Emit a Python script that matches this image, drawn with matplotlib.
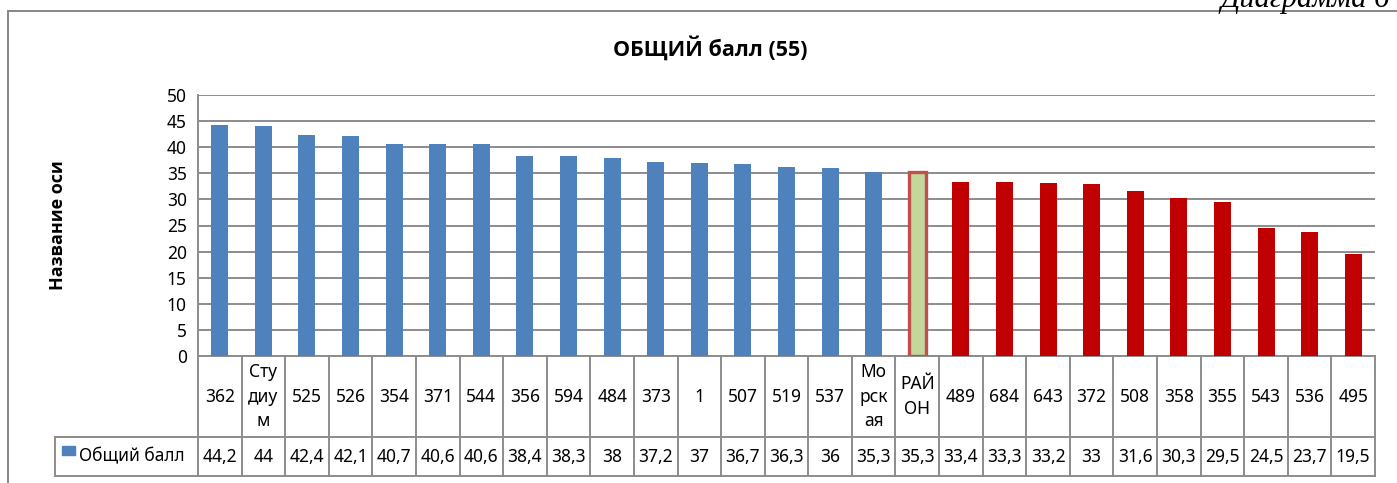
"""Столбчатая диаграмма «ОБЩИЙ балл (55)» с таблицей данных под осью."""

import matplotlib.pyplot as plt
from matplotlib import transforms
from matplotlib.patches import Rectangle

plt.rcParams["font.family"] = ["Noto Sans", "DejaVu Sans"]

# --- данные -----------------------------------------------------------------
categories = [
    "362", "Сту\nдиу\nм", "525", "526", "354", "371", "544", "356", "594",
    "484", "373", "1", "507", "519", "537", "Мо\nрск\nая", "РАЙ\nОН", "489",
    "684", "643", "372", "508", "358", "355", "543", "536", "495",
]
scores = [
    44.2, 44, 42.4, 42.1, 40.7, 40.6, 40.6, 38.4, 38.3, 38, 37.2, 37, 36.7,
    36.3, 36, 35.3, 35.3, 33.4, 33.3, 33.2, 33, 31.6, 30.3, 29.5, 24.5, 23.7,
    19.5,
]
series_name = "Общий балл"
district = "РАЙ\nОН"
y_ticks = list(range(0, 55, 5))

BLUE = "#4F81BD"
RED = "#C00000"
GREEN = "#C3D69B"
EDGE = "#C0504D"
GRID = "#8C8C8C"
BOLD = ["Open Sans", "DejaVu Sans"]

W, H = 1397, 483
fig = plt.figure(figsize=(W / 100, H / 100), dpi=100)


def fx(px):
    return px / W


def fy(py):
    return 1 - py / H


ax = fig.add_axes([fx(198), fy(356), fx(1375) - fx(198), fy(95) - fy(356)])

k = categories.index(district)
x = list(range(len(categories)))
colors = [BLUE if i < k else RED for i in x]
colors[k] = GREEN
bars = ax.bar(x, scores, width=0.39, color=colors, zorder=3)
bars[k].set_edgecolor(EDGE)
bars[k].set_linewidth(2.4)

ax.set_xlim(-0.5, len(categories) - 0.5)
ax.set_ylim(0, 50)
ax.set_yticks(y_ticks)
ax.set_xticks([])
ax.tick_params(axis="y", length=0, labelsize=12.5, pad=8)
ax.yaxis.grid(True, color=GRID, linewidth=1.4, zorder=0)
for s in ("top", "right", "bottom"):
    ax.spines[s].set_visible(False)
ax.spines["left"].set_color(GRID)
ax.spines["left"].set_linewidth(1.4)
ax.set_ylabel("Название оси", fontsize=13, fontweight="bold", family=BOLD)
ax.yaxis.set_label_coords((67 - 198) / 1177, 0.5)

# --- таблица данных -----------------------------------------------------------
tr = transforms.blended_transform_factory(ax.transData, fig.transFigure)
row_top, row_mid, row_bot = fy(356), fy(437), fy(476)
line_kw = dict(color=GRID, linewidth=1.4, clip_on=False)
n = len(categories)
for yy in (row_top, row_mid, row_bot):
    ax.plot([-0.5, n - 0.5], [yy, yy], transform=tr, **line_kw)
for i in range(n + 1):
    ax.plot([i - 0.5, i - 0.5], [row_top, row_bot], transform=tr, **line_kw)
for yy in (row_mid, row_bot):
    fig.add_artist(plt.Line2D([fx(55), fx(198)], [yy, yy], color=GRID, linewidth=1.4))
fig.add_artist(plt.Line2D([fx(55), fx(55)], [row_mid, row_bot], color=GRID, linewidth=1.4))

for i, (cat, val) in enumerate(zip(categories, scores)):
    ax.text(i, (row_top + row_mid) / 2, cat, transform=tr, ha="center",
            va="center", fontsize=12.5, linespacing=1.45)
    ax.text(i, (row_mid + row_bot) / 2, f"{val:g}".replace(".", ","),
            transform=tr, ha="center", va="center", fontsize=12.5)

fig.add_artist(Rectangle((fx(62), fy(455)), fx(13), fy(446) - fy(455),
                         color=BLUE, transform=fig.transFigure))
fig.text(fx(79), (row_mid + row_bot) / 2, series_name, ha="left", va="center",
         fontsize=12.5)

# --- заголовок и рамка ---------------------------------------------------------
fig.text(fx(710), fy(48), "ОБЩИЙ балл (55)", ha="center", va="center",
         fontsize=15.5, fontweight="bold", family=BOLD)
fig.add_artist(Rectangle((fx(8), fy(490)), fx(1400) - fx(8), fy(11) - fy(490),
                         fill=False, edgecolor="#868686", linewidth=1.4,
                         transform=fig.transFigure))
fig.text(fx(1220), fy(7), "Диаграмма 6", ha="left", va="baseline",
         fontsize=22, style="italic", family="Liberation Serif")

fig.savefig("out.png", dpi=100)
